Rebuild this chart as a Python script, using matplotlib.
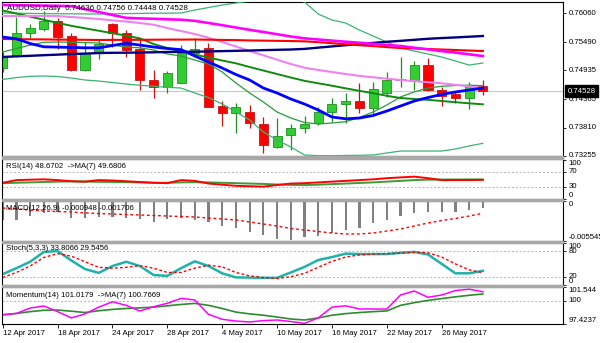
import matplotlib
matplotlib.use("Agg")
import matplotlib.pyplot as plt
from matplotlib.patches import Rectangle
from matplotlib.transforms import blended_transform_factory

plt.rcParams["font.family"] = ["Liberation Sans", "DejaVu Sans"]
FS = 5.6

# AUDUSD daily bars, 12 Apr .. 31 May 2017
DATES = ["12 Apr 2017", "18 Apr 2017", "24 Apr 2017", "28 Apr 2017", "4 May 2017",
         "10 May 2017", "16 May 2017", "22 May 2017", "26 May 2017"]
DATE_BARS = [0, 4, 8, 12, 16, 20, 24, 28, 32]

OPEN = [0.74976, 0.75219, 0.75678, 0.75745, 0.75914, 0.75613, 0.74943, 0.75284, 0.75849,
        0.75666, 0.75351, 0.74746, 0.74614, 0.74693, 0.75272, 0.75370, 0.74234, 0.74102,
        0.74122, 0.73879, 0.73432, 0.73662, 0.73794, 0.73905, 0.74122, 0.74273, 0.74332,
        0.74188, 0.74496, 0.74746, 0.74732, 0.75041, 0.74549, 0.74470, 0.74385, 0.74636]
HIGH = [0.75298, 0.75987, 0.75843, 0.76115, 0.75961, 0.75666, 0.75501, 0.75534, 0.75875,
        0.75731, 0.75567, 0.74943, 0.74929, 0.75435, 0.75567, 0.75481, 0.74332, 0.74287,
        0.74253, 0.74017, 0.73991, 0.73879, 0.74037, 0.74220, 0.74385, 0.74484, 0.74681,
        0.74701, 0.74898, 0.75193, 0.75126, 0.75173, 0.74614, 0.74516, 0.74712, 0.74756]
LOW = [0.74904, 0.75199, 0.75579, 0.75711, 0.75351, 0.74929, 0.74929, 0.75154, 0.75402,
       0.75205, 0.74549, 0.74397, 0.74484, 0.74687, 0.75238, 0.74208, 0.73840, 0.73696,
       0.73794, 0.73306, 0.73406, 0.73367, 0.73696, 0.73859, 0.73925, 0.73905, 0.74102,
       0.74076, 0.74417, 0.74614, 0.74549, 0.74530, 0.74234, 0.74287, 0.74169, 0.74448]
CLOSE = [0.75205, 0.75678, 0.75776, 0.75914, 0.75599, 0.74943, 0.75272, 0.75449, 0.75678,
         0.75337, 0.74746, 0.74614, 0.74890, 0.75272, 0.75351, 0.74220, 0.74102, 0.74208,
         0.73893, 0.73465, 0.73649, 0.73800, 0.73879, 0.74122, 0.74267, 0.74326, 0.74188,
         0.74569, 0.74746, 0.74766, 0.75041, 0.74549, 0.74431, 0.74397, 0.74647, 0.74528]

MA_MAGENTA = [0.76223, 0.76220, 0.76216, 0.76212, 0.76208, 0.76200, 0.76141, 0.76086, 0.76027,
              0.75971, 0.75960, 0.75952, 0.75942, 0.75934, 0.75912, 0.75869, 0.75826, 0.75780,
              0.75735, 0.75692, 0.75648, 0.75603, 0.75567, 0.75544, 0.75522, 0.75500, 0.75481,
              0.75459, 0.75436, 0.75416, 0.75382, 0.75349, 0.75315, 0.75286, 0.75252, 0.75219]
MA_VIOLET = [0.76007, 0.76007, 0.76007, 0.76007, 0.76005, 0.75987, 0.75969, 0.75948, 0.75922,
             0.75897, 0.75869, 0.75834, 0.75770, 0.75711, 0.75652, 0.75579, 0.75495, 0.75406,
             0.75317, 0.75233, 0.75146, 0.75061, 0.74988, 0.74943, 0.74904, 0.74864, 0.74827,
             0.74799, 0.74772, 0.74746, 0.74724, 0.74703, 0.74681, 0.74651, 0.74620, 0.74588]
MA_RED = [0.75554, 0.75550, 0.75548, 0.75546, 0.75542, 0.75540, 0.75538, 0.75534, 0.75536,
          0.75538, 0.75538, 0.75540, 0.75542, 0.75542, 0.75544, 0.75540, 0.75536, 0.75532,
          0.75526, 0.75522, 0.75518, 0.75514, 0.75508, 0.75491, 0.75471, 0.75451, 0.75432,
          0.75414, 0.75394, 0.75376, 0.75367, 0.75357, 0.75347, 0.75337, 0.75327, 0.75317]
MA_NAVY = [0.75199, 0.75213, 0.75223, 0.75235, 0.75246, 0.75258, 0.75266, 0.75278, 0.75282,
           0.75284, 0.75288, 0.75292, 0.75298, 0.75300, 0.75304, 0.75310, 0.75315, 0.75321,
           0.75327, 0.75335, 0.75341, 0.75347, 0.75359, 0.75384, 0.75408, 0.75432, 0.75455,
           0.75477, 0.75499, 0.75518, 0.75538, 0.75558, 0.75573, 0.75585, 0.75599, 0.75613]
MA_BLUE = [0.75593, 0.75558, 0.75465, 0.75400, 0.75394, 0.75388, 0.75380, 0.75380, 0.75426,
           0.75469, 0.75435, 0.75396, 0.75367, 0.75345, 0.75219, 0.75101, 0.74982, 0.74854,
           0.74746, 0.74588, 0.74490, 0.74372, 0.74273, 0.74155, 0.74017, 0.73982, 0.73997,
           0.74047, 0.74135, 0.74234, 0.74332, 0.74401, 0.74461, 0.74510, 0.74549, 0.74588]
MA_GREEN = [0.76115, 0.76056, 0.75995, 0.75932, 0.75871, 0.75814, 0.75765, 0.75717, 0.75668,
            0.75619, 0.75567, 0.75455, 0.75376, 0.75307, 0.75248, 0.75189, 0.75130, 0.75075,
            0.75002, 0.74933, 0.74864, 0.74795, 0.74730, 0.74681, 0.74634, 0.74582, 0.74533,
            0.74486, 0.74435, 0.74391, 0.74372, 0.74356, 0.74332, 0.74309, 0.74287, 0.74267]
BB_MID = [0.75298, 0.75367, 0.75435, 0.75489, 0.75495, 0.75489, 0.75483, 0.75475, 0.75435,
          0.75396, 0.75380, 0.75337, 0.75258, 0.75219, 0.75140, 0.75061, 0.74904, 0.74687,
          0.74490, 0.74313, 0.74116, 0.73997, 0.73909, 0.73879, 0.73899, 0.73925, 0.74007,
          0.74116, 0.74254, 0.74413, 0.74510, 0.74589, 0.74622, 0.74638, 0.74644, 0.74634]
BB_UP = [0.76066, 0.76062, 0.76058, 0.76054, 0.76052, 0.76050, 0.76048, 0.76046, 0.76050,
         0.76054, 0.76058, 0.76062, 0.76064, 0.76066, 0.76125, 0.76174, 0.76223, 0.76263,
         0.76302, 0.76352, 0.76381, 0.76342, 0.76283, 0.76046, 0.75928, 0.75869, 0.75731,
         0.75613, 0.75495, 0.75376, 0.75317, 0.75258, 0.75199, 0.75120, 0.75041, 0.75081]
BB_LOW = [0.74756, 0.74795, 0.74819, 0.74825, 0.74815, 0.74785, 0.74746, 0.74726, 0.74697,
          0.74667, 0.74642, 0.74624, 0.74602, 0.74588, 0.74490, 0.74401, 0.74273, 0.74116,
          0.73958, 0.73722, 0.73564, 0.73426, 0.73269, 0.73255, 0.73255, 0.73259, 0.73263,
          0.73269, 0.73308, 0.73347, 0.73347, 0.73347, 0.73347, 0.73387, 0.73446, 0.73499]

RSI = [41, 48, 49, 50, 48, 45, 44, 48, 47, 45, 43, 41, 40, 48, 46, 39, 36, 33, 32, 31, 35, 39,
       40, 42, 44, 46, 48, 50, 53, 55, 57, 53, 48, 48, 48, 48.6702]
RSI_MA = [40, 41, 42, 43, 44, 44.5, 44, 43.5, 43, 42.5, 42, 41, 41, 42, 42.5, 42, 41, 40, 39,
          38, 36.5, 35.5, 35, 36, 37.5, 39, 40.5, 42, 44, 46, 48, 49, 49.5, 49.5, 49.8, 49.6806]

MACD = [-0.0027, -0.0026, -0.0021, -0.0016, -0.0015, -0.0023, -0.0024, -0.0022, -0.0022,
        -0.0024, -0.0025, -0.0029, -0.0025, -0.0024, -0.0026, -0.0029, -0.0035, -0.0038,
        -0.0043, -0.0047, -0.0052, -0.0054, -0.0050, -0.0049, -0.0044, -0.0040, -0.0038,
        -0.0031, -0.0026, -0.0021, -0.0016, -0.0015, -0.0015, -0.0015, -0.0012, -0.000948]
MACD_SIG = [-0.00097, -0.00111, -0.00125, -0.00139, -0.00146, -0.00152, -0.00166, -0.00173,
            -0.00180, -0.00187, -0.00194, -0.00201, -0.00208, -0.00215, -0.00222, -0.00236,
            -0.00249, -0.00263, -0.00291, -0.00319, -0.00347, -0.00381, -0.00402, -0.00423,
            -0.00444, -0.00457, -0.00457, -0.00444, -0.00416, -0.00388, -0.00347, -0.00305,
            -0.00270, -0.00243, -0.00208, -0.001706]

STOCH = [26, 40, 55, 78, 80, 58, 38, 29, 45, 55, 45, 24, 22, 40, 56, 45, 28, 18.5, 18, 17.5,
         17.5, 30, 43, 59, 66, 74, 73, 73, 73, 76, 78, 72, 50, 28, 28, 33.8066]
STOCH_SIG = [18, 30, 45, 65, 74, 68, 55, 42, 40, 42, 46, 40, 30, 30, 40, 47, 43, 30, 22, 18,
             16, 20, 28, 42, 56, 66, 71, 73, 74, 75, 77, 76, 66, 50, 36, 29.5456]

MOM = [98.45, 98.6, 99.2, 99.43, 98.8, 98.1, 98.55, 99.3, 99.9, 99.5, 98.87, 99.35, 99.73,
       100.28, 100.1, 98.5, 97.95, 97.75, 97.65, 97.8, 97.87, 97.7, 97.5, 98.1, 99.3, 99.45,
       99.1, 99.09, 99.09, 100.65, 101.1, 100.4, 100.65, 101.15, 101.3, 101.0179]
MOM_MA = [98.45, 98.6, 98.8, 98.95, 98.98, 98.85, 98.7, 98.9, 99.05, 99.15, 99.22, 99.3, 99.45,
          99.6, 99.72, 99.5, 99.15, 98.75, 98.55, 98.4, 98.2, 97.98, 97.87, 98.1, 98.4, 98.58,
          98.7, 98.8, 98.88, 99.5, 99.8, 100.05, 100.25, 100.45, 100.62, 100.7669]

PRICE_TICKS = [0.76060, 0.75490, 0.74935, 0.74365, 0.73810, 0.73255]

W, H = 600, 343
fig = plt.figure(figsize=(W / 100, H / 100), dpi=100)
fig.patch.set_facecolor("white")
XL = (-0.051, 40.84)
x = list(range(len(CLOSE)))


def panel(top, bottom):
    ax = fig.add_axes([2 / W, 1 - bottom / H, 561 / W, (bottom - top) / H])
    ax.set_xlim(*XL)
    ax.set_xticks([])
    ax.yaxis.tick_right()
    ax.tick_params(axis="y", length=2.5, width=0.6, pad=1.5, direction="out", labelsize=FS)
    for s in ax.spines.values():
        s.set_linewidth(0.8)
    return ax


def right_labels(ax, vals, labels, vas):
    ax.set_yticks(vals)
    ax.set_yticklabels(labels)
    for t, va in zip(ax.get_yticklabels(), vas):
        t.set_va(va)


def title(ax, y, s):
    ax.text(0.007, y, s, transform=ax.transAxes, fontsize=FS, va="center", ha="left", zorder=10)


def level(ax, v):
    ax.axhline(v, color="#b4b4b4", lw=0.7, ls=(0, (2, 2)), zorder=0.5)


# grey separators between the windows
for top, bottom in [(156, 159), (199, 201), (241, 242.5), (285.3, 287)]:
    fig.patches.append(Rectangle((2 / W, 1 - bottom / H), 561 / W, (bottom - top) / H,
                                 transform=fig.transFigure, color="#a8a8a8", zorder=0))

# --- price window
ax = panel(2, 156)
ax.set_ylim(0.73249, 0.76283)
ax.axhline(CLOSE[-1], color="#c8c8c8", lw=0.8, zorder=0.5)
for i in x:
    o, h, l, c = OPEN[i], HIGH[i], LOW[i], CLOSE[i]
    face, edge = ("#32cd32", "#1f8f1f") if c >= o else ("#ff0000", "#c81414")
    ax.vlines(i, l, h, color=edge, lw=0.9, zorder=2)
    lo, hi = min(o, c), max(o, c)
    ax.add_patch(Rectangle((i - 0.33, lo), 0.66, max(hi - lo, 0.00004),
                           facecolor=face, edgecolor=edge, lw=0.6, zorder=2.1))

ax.plot(x, BB_UP, color="#3cb371", lw=0.9, zorder=3)
ax.plot(x, BB_LOW, color="#3cb371", lw=0.9, zorder=3)
ax.plot(x, BB_MID, color="#2a9a3a", lw=0.9, zorder=3)
ax.plot(x, MA_GREEN, color="#108a10", lw=1.4, zorder=3)
ax.plot(x, MA_VIOLET, color="#ee82ee", lw=1.5, zorder=3)
ax.plot(x, MA_NAVY, color="#000080", lw=1.7, zorder=3)
ax.plot(x, MA_RED, color="#ff0000", lw=1.5, zorder=3)
ax.plot(x, MA_MAGENTA, color="#ff00ff", lw=1.9, zorder=3)
ax.plot(x, MA_BLUE, color="#0000ff", lw=2.0, zorder=3)

right_labels(ax, PRICE_TICKS, [f"{v:.5f}" for v in PRICE_TICKS], ["center"] * 6)
tr = blended_transform_factory(ax.transAxes, ax.transData)
ax.text(1.008, CLOSE[-1], f"{CLOSE[-1]:.5f}", transform=tr, ha="left", va="center",
        color="white", fontsize=FS, clip_on=False, zorder=10,
        bbox=dict(boxstyle="square,pad=0.3", fc="black", ec="black"))
ax.text(0.009, 1 - 7 / 154,
        f"AUDUSD,Daily  {OPEN[-1]:.5f} {HIGH[-1]:.5f} {LOW[-1]:.5f} {CLOSE[-1]:.5f}",
        transform=ax.transAxes, fontsize=5.8, va="center", ha="left", zorder=10)

# --- RSI
ax = panel(159, 199)
ax.set_ylim(-1.3, 103)
level(ax, 70)
level(ax, 30)
ax.plot(x, RSI_MA, color="#3c9c3c", lw=1.4)
ax.plot(x, RSI, color="#ff0000", lw=1.4)
right_labels(ax, [100, 70, 30, 0], ["100", "70", "30", "0"], ["top", "center", "center", "bottom"])
title(ax, 0.81, f"RSI(14) {RSI[-1]:.4f}  ->MA(7) {RSI_MA[-1]:.4f}")

# --- MACD
ax = panel(201, 241)
ax.set_ylim(-0.005545, 0.0)
ax.bar(x, MACD, width=0.16, color="#808080", zorder=2)
ax.plot(x, MACD_SIG, color="#ff0000", lw=1.0, ls=(0, (2, 2)), zorder=3)
right_labels(ax, [0, -0.005545], ["0", "-0.005545"], ["top", "bottom"])
title(ax, 0.8, f"MACD(12,26,9) {MACD[-1]:.6f} {MACD_SIG[-1]:.6f}")

# --- Stochastic
ax = panel(242.5, 285.3)
ax.set_ylim(0, 100)
level(ax, 80)
level(ax, 20)
ax.plot(x, STOCH_SIG, color="#ff0000", lw=1.0, ls=(0, (2, 1.6)), zorder=3)
ax.plot(x, STOCH, color="#20b2aa", lw=1.8, zorder=2)
right_labels(ax, [100, 80, 20, 0], ["100", "80", "20", "0"], ["top", "center", "center", "bottom"])
title(ax, 0.85, f"Stoch(5,3,3) {STOCH[-1]:.4f} {STOCH_SIG[-1]:.4f}")

# --- Momentum
ax = panel(287, 324)
ax.set_ylim(97.4237, 101.544)
level(ax, 100)
ax.plot(x, MOM_MA, color="#2e8b2e", lw=1.2)
ax.plot(x, MOM, color="#ff00ff", lw=1.1)
right_labels(ax, [101.544, 100, 97.4237], ["101.544", "100", "97.4237"], ["top", "center", "bottom"])
title(ax, 0.78, f"Momentum(14) {MOM[-1]:.4f}  ->MA(7) {MOM_MA[-1]:.4f}")
ax.set_xticks(DATE_BARS)
ax.set_xticklabels(DATES, fontsize=FS, ha="left")
ax.tick_params(axis="x", length=3, width=0.6, pad=1.5, direction="out")

fig.savefig("out.png", dpi=100)
